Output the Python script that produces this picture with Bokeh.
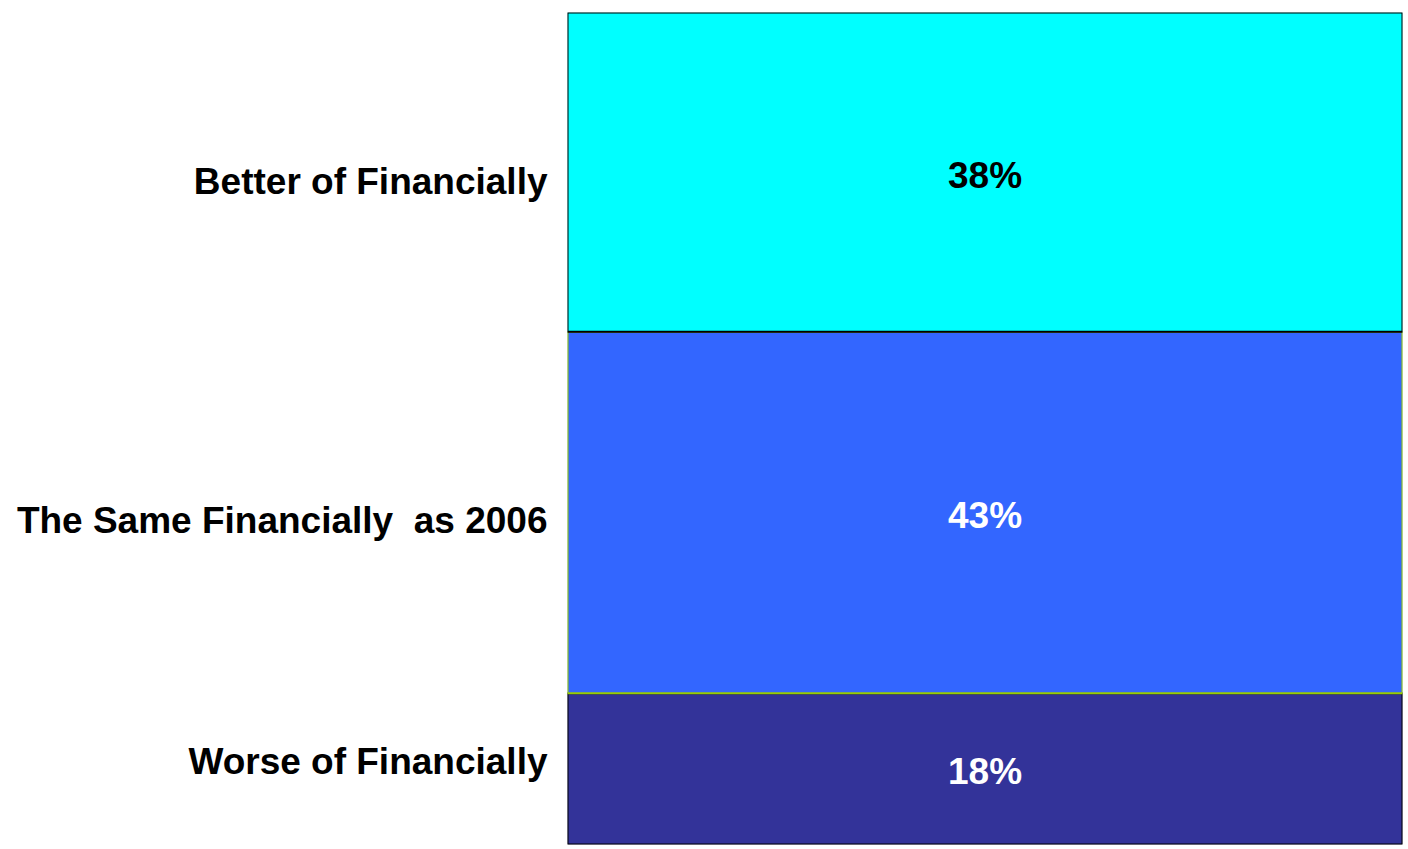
from bokeh.plotting import figure
from bokeh.models import Range1d, FixedTicker, ColumnDataSource, LinearAxis
from bokeh.core.properties import value
from bokeh.embed import file_html
from bokeh.resources import INLINE

# Data (stack order bottom -> top)
categories = ["Worse of Financially", "The Same Financially  as 2006", "Better of Financially"]
values = [18, 43, 38]
labels = ["18%", "43%", "38%"]
fill_colors = ["#333399", "#3366FF", "#00FFFF"]
line_colors = ["#000000", "#99CC00", "#000000"]
text_colors = ["#FFFFFF", "#FFFFFF", "#000000"]
# category label tick positions (data units)
label_ticks = [9.9, 38.6, 78.9]

bottoms = []
tops = []
acc = 0
for v in values:
    bottoms.append(acc)
    acc += v
    tops.append(acc)
mids = [(b + t) / 2 for b, t in zip(bottoms, tops)]
total = acc

p = figure(width=1403, height=846, output_backend="svg", toolbar_location=None,
           x_range=Range1d(0, 1), y_range=Range1d(0, total),
           min_border_left=567, min_border_right=1, min_border_top=12, min_border_bottom=2)
p.xaxis.visible = False
p.yaxis.visible = False
p.grid.visible = False
p.outline_line_color = None
p.background_fill_color = "white"

for i in range(len(values)):
    src = ColumnDataSource(dict(x=[0.5], b=[bottoms[i]], t=[tops[i]]))
    p.vbar(x="x", width=1, bottom="b", top="t", source=src,
           fill_color=fill_colors[i], line_color=line_colors[i], line_width=2)

tsrc = ColumnDataSource(dict(x=[0.5] * len(values), y=mids, t=labels, c=text_colors))
p.text(x="x", y="y", text="t", source=tsrc, text_color="c",
       text_font=value("Liberation Sans"), text_font_style="bold",
       text_font_size="37px", text_align="center", text_baseline="middle",
       y_offset=3)

display_names = [c.replace("  ", " \u00a0") for c in categories]
ax = LinearAxis(ticker=FixedTicker(ticks=label_ticks),
                major_label_overrides={t: c for t, c in zip(label_ticks, display_names)})
ax.axis_line_color = None
ax.major_tick_line_color = None
ax.minor_tick_line_color = None
ax.major_tick_out = 0
ax.major_tick_in = 0
ax.major_label_standoff = 20
ax.major_label_text_font = "Liberation Sans"
ax.major_label_text_font_style = "bold"
ax.major_label_text_font_size = "37px"
ax.major_label_text_color = "#000000"
p.add_layout(ax, "left")

open("out.html", "w").write(file_html(p, INLINE))
